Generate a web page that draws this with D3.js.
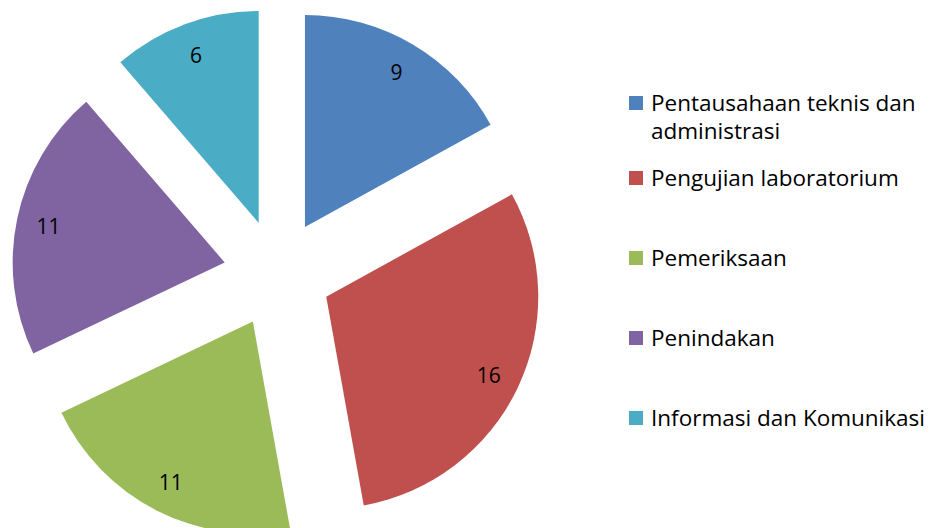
<!DOCTYPE html>
<html>
<head>
<meta charset="utf-8">
<script src="https://cdn.jsdelivr.net/npm/d3@7"></script>
<style>
  body { margin: 0; background: #fff; }
  text { font-family: "Open Sans", "Noto Sans", sans-serif; fill: #000; }
</style>
</head>
<body>
<div class="chart"></div>
<script>
// data ------
const categories = ["Pentausahaan teknis dan administrasi", "Pengujian laboratorium", "Pemeriksaan", "Penindakan", "Informasi dan Komunikasi"];
const values = [9, 16, 11, 11, 6];
const colors = ["#4F81BD", "#C0504D", "#9BBB59", "#8064A2", "#4BACC6"];
// legend lines (first entry wraps)
const legendLines = [["Pentausahaan teknis dan", "administrasi"], ["Pengujian laboratorium"], ["Pemeriksaan"], ["Penindakan"], ["Informasi dan Komunikasi"]];

const width = 934, height = 528;
const cx = 277.5, cy = 273.5;
const radius = 212;
const explode = 54;

const svg = d3.select(".chart")
  .append("svg")
  .attr("width", width)
  .attr("height", height);

const data = categories.map((c, i) => ({name: c, value: values[i], color: colors[i], lines: legendLines[i]}));

const pie = d3.pie().sort(null).value(d => d.value);
const arcs = pie(data);

const arc = d3.arc().innerRadius(0).outerRadius(radius);
const offsetArc = d3.arc().innerRadius(explode).outerRadius(explode);
const labelArc = d3.arc().innerRadius(180).outerRadius(180);

const g = svg.append("g")
  .attr("transform", `translate(${cx},${cy})`);

const slices = g.selectAll(".slice")
  .data(arcs)
  .enter()
  .append("g")
  .attr("class", "slice")
  .attr("transform", d => {
    const [ox, oy] = offsetArc.centroid(d);
    return `translate(${ox},${oy})`;
  });

slices.append("path")
  .attr("d", arc)
  .attr("fill", d => d.data.color);

slices.append("text")
  .attr("transform", d => `translate(${labelArc.centroid(d)})`)
  .attr("text-anchor", "middle")
  .attr("dy", "0.4em")
  .style("font-size", "21px")
  .text(d => d.data.value);

// legend ------
const rowY = [103, 178, 258, 338, 418];
const legend = svg.append("g")
  .attr("class", "legend")
  .selectAll("g")
  .data(data)
  .enter()
  .append("g")
  .attr("transform", (d, i) => `translate(629,${rowY[i]})`);

legend.append("rect")
  .attr("x", 0)
  .attr("y", -7)
  .attr("width", 14)
  .attr("height", 14)
  .attr("fill", d => d.color);

const lt = legend.append("text")
  .attr("x", 22)
  .attr("y", 8)
  .style("font-size", "22.5px");

lt.selectAll("tspan")
  .data(d => d.lines)
  .enter()
  .append("tspan")
  .attr("x", 22)
  .attr("dy", (d, i) => i === 0 ? 0 : 28)
  .text(d => d);
</script>
</body>
</html>
